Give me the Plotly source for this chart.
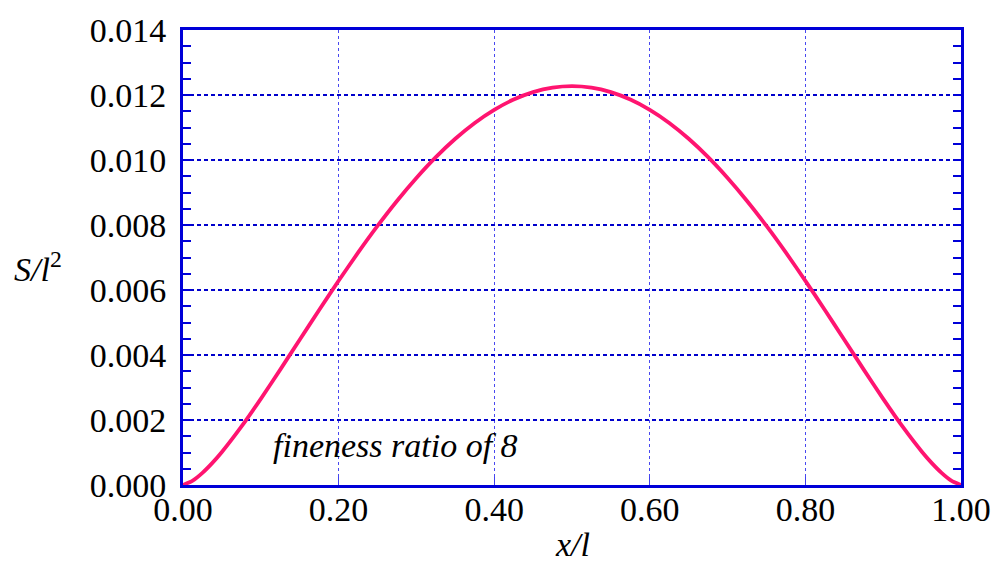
import plotly.graph_objects as go

x_vals = [0.0, 0.0125, 0.025, 0.0375, 0.05, 0.075, 0.1, 0.125, 0.15, 0.175, 0.2, 0.225, 0.25,
          0.275, 0.3, 0.325, 0.35, 0.375, 0.4, 0.425, 0.45, 0.475, 0.5,
          0.525, 0.55, 0.575, 0.6, 0.625, 0.65, 0.675, 0.7, 0.725, 0.75,
          0.775, 0.8, 0.825, 0.85, 0.875, 0.9, 0.925, 0.95, 0.9625, 0.975, 0.9875, 1.0]
s_vals = [0.0, 0.000135, 0.000374, 0.000673, 0.001016, 0.001794, 0.002651, 0.003551, 0.004470, 0.005386,
          0.006283, 0.007149, 0.007971, 0.008740, 0.009448, 0.010088, 0.010653,
          0.011140, 0.011543, 0.011860, 0.012088, 0.012226, 0.012272,
          0.012226, 0.012088, 0.011860, 0.011543, 0.011140, 0.010653, 0.010088,
          0.009448, 0.008740, 0.007971, 0.007149, 0.006283, 0.005386, 0.004470,
          0.003551, 0.002651, 0.001794, 0.001016, 0.000673, 0.000374, 0.000135, 0.0]
x_ticks = [0.0, 0.2, 0.4, 0.6, 0.8, 1.0]
x_tick_labels = ["0.00", "0.20", "0.40", "0.60", "0.80", "1.00"]
y_ticks = [0.0, 0.002, 0.004, 0.006, 0.008, 0.010, 0.012, 0.014]
y_tick_labels = ["0.000", "0.002", "0.004", "0.006", "0.008", "0.010", "0.012", "0.014"]

FONT = "Liberation Serif, Times New Roman, Times, serif"
BLUE = "#0000d8"
FS = 34

fig = go.Figure()
fig.add_trace(go.Scatter(x=x_vals, y=s_vals, mode="lines",
                         line=dict(color="#ff1470", width=3.8, shape="spline", smoothing=0.6),
                         showlegend=False, hoverinfo="skip"))

fig.update_layout(
    width=1003, height=563,
    margin=dict(l=183, r=35, t=27, b=78),
    paper_bgcolor="white", plot_bgcolor="white",
    font=dict(family=FONT, size=FS, color="black"),
    xaxis=dict(range=[0, 1], tickvals=x_ticks, ticktext=x_tick_labels,
               showline=True, linecolor=BLUE, linewidth=3, mirror=True,
               ticks="inside", ticklen=8, tickcolor="#4040f0", tickwidth=1,
               ticklabelstandoff=-8,
               showgrid=True, gridcolor="#4848f0", gridwidth=1, griddash="3px,3px",
               zeroline=False, tickfont=dict(family=FONT, size=FS)),
    yaxis=dict(range=[0, 0.014], tickvals=y_ticks, ticktext=y_tick_labels,
               showline=True, linecolor=BLUE, linewidth=3, mirror="ticks",
               ticks="inside", ticklen=8, tickcolor=BLUE, tickwidth=1.5,
               ticklabelstandoff=7,
               minor=dict(dtick=0.0005, ticks="inside", ticklen=8, tickcolor=BLUE, tickwidth=1.5, showgrid=False),
               showgrid=True, gridcolor="#0000cc", gridwidth=2, griddash="4px,3px",
               zeroline=False, tickfont=dict(family=FONT, size=FS)),
    annotations=[
        dict(text="<i>fineness ratio of 8</i>", x=0.273, y=0.00122, xref="x", yref="y",
             showarrow=False, font=dict(family=FONT, size=FS)),
        dict(text="<i>x/l</i>", x=0.5, y=-0.175, xref="paper", yref="paper", xanchor="center",
             showarrow=False, font=dict(family=FONT, size=FS)),
        dict(text="<i>S/l</i><sup>2</sup>", x=-0.187, y=0.48, xref="paper", yref="paper",
             xanchor="center", showarrow=False, font=dict(family=FONT, size=FS)),
    ],
)
fig.write_html("out.html")
